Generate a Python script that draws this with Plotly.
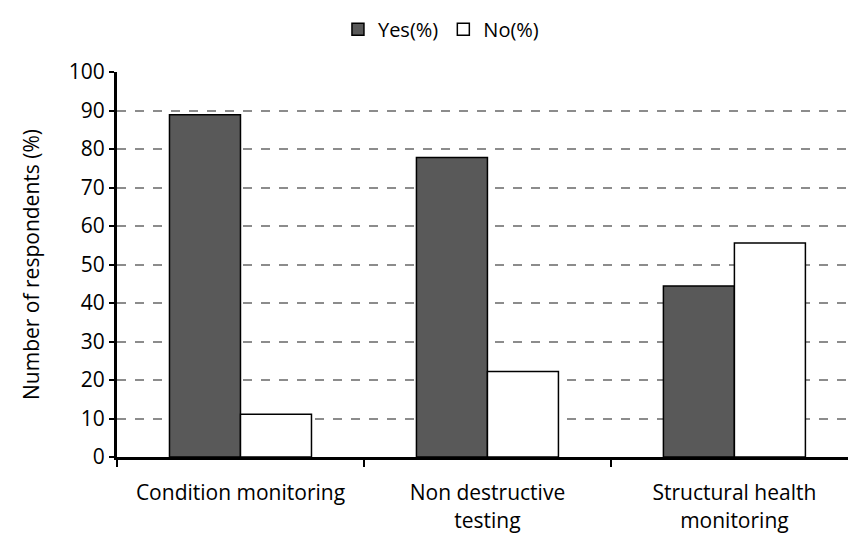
import plotly.graph_objects as go

categories = ["Condition monitoring", "Non destructive<br>testing", "Structural health<br>monitoring"]
yes_pct = [88.9, 77.8, 44.4]
no_pct = [11.1, 22.2, 55.6]
y_ticks = [0, 10, 20, 30, 40, 50, 60, 70, 80, 90, 100]

FONT = "Open Sans"
FS = 21

fig = go.Figure()
fig.add_trace(go.Bar(x=categories, y=yes_pct, name="Yes(%)",
                     marker=dict(color="#595959", line=dict(color="black", width=1.5))))
fig.add_trace(go.Bar(x=categories, y=no_pct, name="No(%)",
                     marker=dict(color="white", line=dict(color="black", width=1.5))))

fig.update_layout(
    width=848, height=536,
    margin=dict(l=117, r=0, t=72, b=79),
    paper_bgcolor="white", plot_bgcolor="white",
    barmode="group", bargap=0.425, bargroupgap=0,
    font=dict(family=FONT, size=FS, color="black"),
    showlegend=True,
    legend=dict(orientation="h", xref="container", yref="container",
                x=0.52, xanchor="center", y=0.982, yanchor="top",
                font=dict(family=FONT, size=20), itemwidth=30,
                traceorder="normal"),
)
fig.update_xaxes(
    range=[-0.5, 2.46],
    showline=True, linecolor="black", linewidth=3,
    ticks="outside", tickson="boundaries", ticklen=7, tickwidth=2, tickcolor="black",
    showgrid=False, tickfont=dict(family=FONT, size=FS),
    ticklabelstandoff=15,
)
fig.update_yaxes(
    range=[0, 100], tickvals=y_ticks,
    showline=True, linecolor="black", linewidth=3,
    ticks="outside", ticklen=5, tickwidth=2, tickcolor="black",
    showgrid=True, gridcolor="#8c8c8c", gridwidth=1.5, griddash="dash",
    zeroline=False,
    title=dict(text="Number of respondents (%)", font=dict(family=FONT, size=FS), standoff=24),
    tickfont=dict(family=FONT, size=FS),
)

fig.write_html("out.html")
